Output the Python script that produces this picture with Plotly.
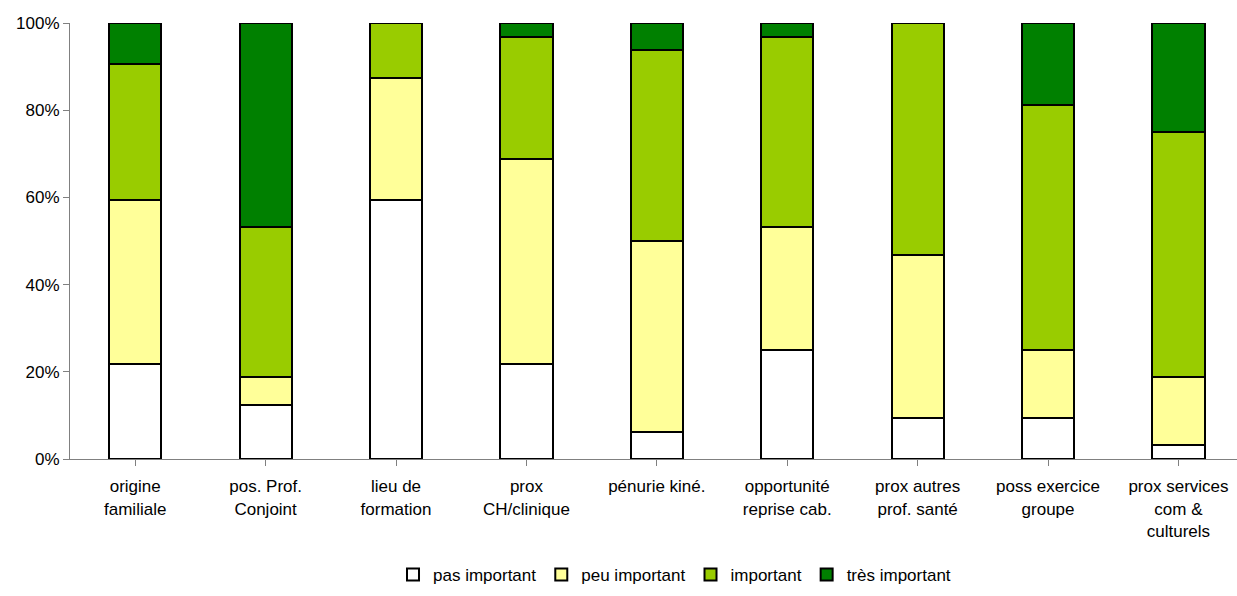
import plotly.graph_objects as go

categories = [
    "origine<br>familiale",
    "pos. Prof.<br>Conjoint",
    "lieu de<br>formation",
    "prox<br>CH/clinique",
    "pénurie kiné.",
    "opportunité<br>reprise cab.",
    "prox autres<br>prof. santé",
    "poss exercice<br>groupe",
    "prox services<br>com &<br>culturels",
]
series_names = ["pas important", "peu important", "important", "très important"]
pas_important = [21.9, 12.5, 59.4, 21.9, 6.25, 25.0, 9.4, 9.4, 3.1]
peu_important = [37.5, 6.25, 28.1, 46.9, 43.75, 28.1, 37.5, 15.6, 15.6]
important = [31.25, 34.4, 12.5, 28.1, 43.75, 43.75, 53.1, 56.25, 56.25]
tres_important = [9.4, 46.9, 0.0, 3.1, 6.25, 3.1, 0.0, 18.75, 25.0]
y_ticks = [0, 20, 40, 60, 80, 100]

colors = ["#FFFFFF", "#FFFF99", "#99CC00", "#008000"]
values = [pas_important, peu_important, important, tres_important]

FONT = "Arial, Liberation Sans, sans-serif"

fig = go.Figure()
for name, vals, col in zip(series_names, values, colors):
    fig.add_trace(go.Bar(
        x=list(range(len(categories))),
        y=vals,
        name=name,
        width=0.4,
        marker=dict(color=col, line=dict(color="#000000", width=2)),
    ))

fig.update_layout(
    barmode="stack",
    width=1237,
    height=596,
    margin=dict(l=70, r=0, t=23, b=137),
    paper_bgcolor="white",
    plot_bgcolor="white",
    font=dict(family=FONT, size=16, color="#000000"),
    showlegend=True,
    legend=dict(
        orientation="h",
        x=0.518, xanchor="center",
        y=-0.266, yanchor="middle",
        traceorder="normal",
        font=dict(size=17),
        itemwidth=30,
        bgcolor="rgba(0,0,0,0)",
    ),
)
fig.update_xaxes(
    tickmode="array",
    tickvals=list(range(len(categories))),
    ticktext=categories,
    range=[-0.5, 8.449],
    showline=True, linecolor="#808080", linewidth=1,
    ticks="outside", tickson="boundaries", ticklen=6, tickcolor="#808080",
    showgrid=False, zeroline=False,
    tickfont=dict(size=17),
    ticklabelstandoff=6,
)
fig.update_yaxes(
    range=[0, 100],
    tickmode="array",
    tickvals=y_ticks,
    ticktext=[f"{v}%" for v in y_ticks],
    showline=True, linecolor="#808080", linewidth=1,
    ticks="outside", ticklen=6, tickcolor="#808080",
    showgrid=False, zeroline=False,
    tickfont=dict(size=17),
)

fig.write_html("out.html")
